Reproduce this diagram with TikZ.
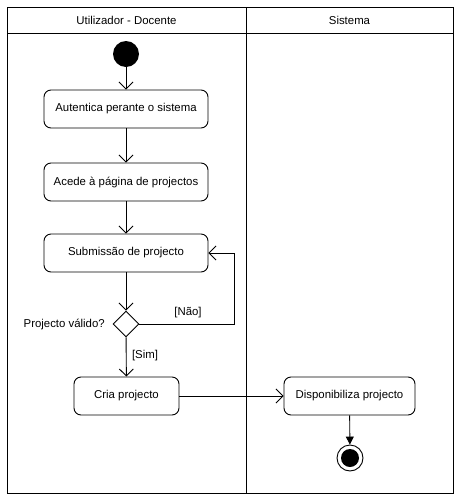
\documentclass[tikz,border=0pt]{standalone}
\usepackage{fontspec}
\setmainfont{Liberation Sans}
\usetikzlibrary{positioning,arrows.meta,shapes.geometric}
\begin{document}
\begin{tikzpicture}[x=1pt,y=-1pt,line width=0.9pt,
  font=\fontsize{11.4}{13}\selectfont,
  action/.style={draw,rounded corners=7pt,minimum width=164pt,minimum height=38pt},
  decision/.style={draw,diamond,inner sep=0pt,minimum width=26pt,minimum height=26pt},
  flow/.style={-{Straight Barb[length=7pt,width=14pt,line width=0.9pt]}},
  endflow/.style={-{Triangle[length=8pt,width=8pt]}}]
\useasboundingbox (0,0) rectangle (459,499);
% The two swimlanes
\draw (7,7) rectangle (453,493);
\draw (7,33) -- (453,33);
\draw (246,7) -- (246,493);
\node (laneA) at (126.5,20) {Utilizador - Docente};
\node (laneB) at (349.5,20) {Sistema};
%% Nodes of the activity
\node[circle,fill,minimum size=26pt,inner sep=0pt] (start) at (126,54) {};
\node[action] (auth) at (126,109) {Autentica perante o sistema};
\node[action] (acede) at (126,182) {Acede à página de projectos};
\node[action] (subm) at (126,253) {Submissão de projecto};
\node[decision] (valid) at (126,324) {};
\node[action,minimum width=105pt] (cria) at (126.5,396) {Cria projecto};
\node[action,minimum width=131pt] (disp) at (349.5,396) {Disponibiliza projecto};
\node[circle,draw,minimum size=26pt,inner sep=0pt] (fim) at (350,458) {};
\fill (fim.center) circle (9);
%% Labels
\node[left = 4pt of valid] (qlabel) {Projecto válido?};
\node (nao) at (188,313) {[Não]};
\node (sim) at (145,356) {[Sim]};
% Connectors
\coordinate (loop) at (234,324);
\draw[flow] (start) -- (auth);
\draw[flow] (auth) -- (acede);
\draw[flow] (acede) -- (subm);
\draw[flow] (subm) -- (valid);
\draw[flow] (valid.east) -- (loop) |- (subm.east); % no
\draw[flow] (valid) -- (cria); % yes
\draw[flow] (cria) -- (disp);
\draw[endflow] (disp) -- (fim);
\end{tikzpicture}
\end{document}
